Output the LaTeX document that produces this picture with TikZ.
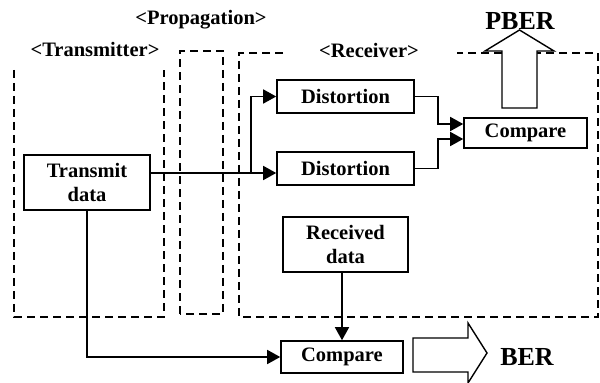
\documentclass[tikz,border=0pt]{standalone}
\usepackage{fontspec}
\setmainfont{Liberation Serif}
\usetikzlibrary{arrows.meta}

\begin{document}
\begin{tikzpicture}[x=1pt,y=1pt,
        blk/.style={draw,line width=1.6pt,inner sep=0pt,align=center,
                font=\fontsize{20.5}{24}\selectfont\bfseries},
        zone/.style={line width=1.4pt,dash pattern=on 8pt off 5pt},
        conn/.style={line width=1.6pt,-{Triangle[length=13pt,width=14pt]}},
        lbl/.style={inner sep=0pt,font=\fontsize{20.5}{24}\selectfont\bfseries},
        big/.style={inner sep=0pt,font=\fontsize{26}{28}\selectfont\bfseries}]
        \useasboundingbox (0,0) rectangle (600,383);

                % dashed zones
                \draw[zone] (14,313)--(14,66)--(164,66)--(164,313);
                \draw[zone] (180,69) rectangle (223,332);
                \draw[zone] (283,330)--(239,330)--(239,66)--(598,66)--(598,330)--(457,330);
                \node[lbl] (tmlbl) at (95,334) {<Transmitter>};
                \node[lbl] (pglbl) at (201,363) {<Propagation>};
                \node[lbl] (rclbl) at (369,333) {<Receiver>};

                % blocks
                \node[blk,minimum width=126pt,minimum height=55pt] (tx) at (87,200.5) {Transmit\\data};
                \node[blk,minimum width=137pt,minimum height=33pt] (d1) at (345.5,286.5) {Distortion};
                \node[blk,minimum width=137pt,minimum height=33pt] (d2) at (345.5,214.5) {Distortion};
                \node[blk,minimum width=123pt,minimum height=30pt] (cmpA) at (525.5,250) {Compare};
                \node[blk,minimum width=125pt,minimum height=55pt] (rx) at (345.5,138.5) {Received\\data};
                \node[blk,minimum width=122pt,minimum height=32pt] (cmpB) at (342,26) {Compare};

                % connectors
                \coordinate (split) at (251,210);
                \draw[line width=1.6pt] (tx.east |- split)--(split);
                \draw[conn] (split)--(d2.west |- split);
                \draw[conn] (split) |- (d1.west);
                \draw[conn] (d1.east)--++(23,0) |- ([yshift=9pt]cmpA.west);
                \draw[conn] (d2.east)--++(23,0) |- ([yshift=-6pt]cmpA.west);
                \draw[conn] (tx.south) |- (cmpB.west);
                \draw[conn] (rx.south -| cmpB.north)--(cmpB.north);

                % result arrows
                \draw[line width=1.4pt,fill=white] (502,275)--(502,332)--(485,332)--(519.5,353)
                        --(554,332)--(537,332)--(537,275)--cycle;
                \node[big] (pber) at (520,362) {PBER};
                \draw[line width=1.4pt,fill=white] (413,45)--(468,45)--(468,60)--(487,30)
                        --(468,0)--(468,11)--(413,11)--cycle;
                \node[big] (ber) at (527,26) {BER};
\end{tikzpicture}
\end{document}
